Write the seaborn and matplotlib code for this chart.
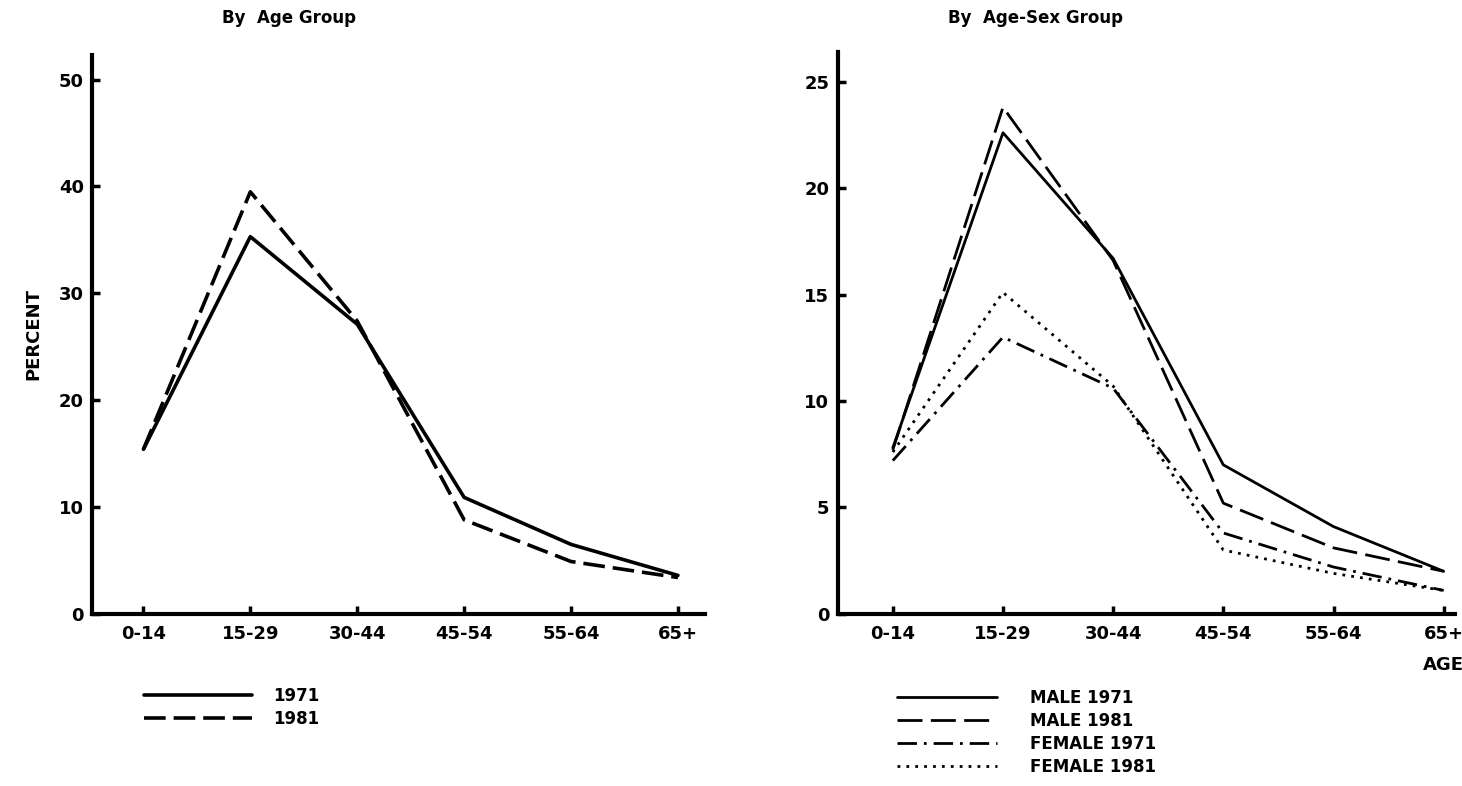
import pandas as pd
import seaborn as sns
import matplotlib.pyplot as plt

age_groups = ["0-14", "15-29", "30-44", "45-54", "55-64", "65+"]
right_tick_labels = ["0-14", "15-29", "30-44", "45-54", "55-64", "65+"]

# by age group
pct_1971 = [15.4, 35.3, 27.1, 10.9, 6.5, 3.6]
pct_1981 = [15.4, 39.5, 27.4, 8.8, 4.9, 3.4]

# by age-sex group
male_1971 = [7.8, 22.6, 16.7, 7.0, 4.1, 2.0]
male_1981 = [7.7, 23.8, 16.6, 5.2, 3.1, 2.0]
female_1971 = [7.2, 13.0, 10.6, 3.8, 2.2, 1.1]
female_1981 = [7.6, 15.1, 10.7, 3.0, 1.9, 1.1]


def long_df(series):
    rows = []
    for name, vals in series.items():
        for g, v in zip(age_groups, vals):
            rows.append({"age": g, "pct": v, "series": name})
    return pd.DataFrame(rows)


sns.set_theme(style="ticks")
plt.rcParams["font.family"] = ["DejaVu Sans"]
plt.rcParams["font.weight"] = "bold"
plt.rcParams["text.color"] = "black"
plt.rcParams["axes.labelcolor"] = "black"
plt.rcParams["xtick.color"] = "black"
plt.rcParams["ytick.color"] = "black"
plt.rcParams["axes.edgecolor"] = "black"

fig = plt.figure(figsize=(14.62, 7.86), dpi=100)
ax1 = fig.add_axes([0.063, 0.219, 0.419, 0.711])
ax2 = fig.add_axes([0.573, 0.219, 0.422, 0.715])

df1 = long_df({"1971": pct_1971, "1981": pct_1981})
sns.lineplot(data=df1, x="age", y="pct", style="series", color="black",
             dashes={"1971": "", "1981": (6, 2.2)}, linewidth=2.6,
             sort=False, legend=False, ax=ax1)

df2 = long_df({"MALE 1971": male_1971, "MALE 1981": male_1981,
               "FEMALE 1971": female_1971, "FEMALE 1981": female_1981})
sns.lineplot(data=df2, x="age", y="pct", style="series", color="black",
             dashes={"MALE 1971": "", "MALE 1981": (9, 3),
                     "FEMALE 1971": (7, 2.5, 1, 2.5), "FEMALE 1981": (1, 2.2)},
             linewidth=2.0, sort=False, legend=False, ax=ax2)

tick_font = dict(fontsize=13, fontweight="bold", color="black")
for ax, top, xl in [(ax1, 52.3, (-0.48, 5.25)), (ax2, 26.4, (-0.5, 5.1))]:
    sns.despine(ax=ax)
    ax.spines["left"].set_linewidth(3)
    ax.spines["bottom"].set_linewidth(3)
    ax.set_ylim(0, top)
    ax.set_xlim(*xl)
    ax.tick_params(axis="x", direction="in", length=6, width=2.5, pad=8)
    ax.tick_params(axis="y", direction="in", length=6, width=2.5, pad=6)
    ax.set_xlabel("")
    ax.set_ylabel("")

ax1.set_yticks([0, 10, 20, 30, 40, 50])
ax2.set_yticks([0, 5, 10, 15, 20, 25])
ax1.set_xticks(range(len(age_groups)))
ax1.set_xticklabels(age_groups, **tick_font)
ax2.set_xticks(range(len(right_tick_labels)))
ax2.set_xticklabels(right_tick_labels, **tick_font)
ax1.set_yticklabels(ax1.get_yticks().astype(int), **tick_font)
ax2.set_yticklabels(ax2.get_yticks().astype(int), **tick_font)

ax1.set_ylabel("PERCENT", fontsize=13, fontweight="bold", color="black",
               labelpad=12)
fig.text(0.198, 0.977, "By  Age Group", ha="center", va="center",
         fontsize=12, fontweight="bold")
fig.text(0.708, 0.977, "By  Age-Sex Group", ha="center", va="center",
         fontsize=12, fontweight="bold")
ax2.text(5, -0.075, "AGE", transform=ax2.get_xaxis_transform(),
         ha="center", va="top", fontsize=13, fontweight="bold")

h1 = ax1.get_lines()
fig.legend(h1[:2], ["1971", "1981"], loc="upper left",
           bbox_to_anchor=(0.088, 0.145), frameon=False,
           handlelength=6.5, handletextpad=1.3, labelspacing=0.3,
           prop={"weight": "bold", "size": 12})
h2 = ax2.get_lines()
fig.legend(h2[:4], ["MALE 1971", "MALE 1981", "FEMALE 1971", "FEMALE 1981"],
           loc="upper left", bbox_to_anchor=(0.603, 0.143), frameon=False,
           handlelength=6.0, handletextpad=2.0, labelspacing=0.3,
           prop={"weight": "bold", "size": 12})

fig.savefig("out.png", dpi=100)
